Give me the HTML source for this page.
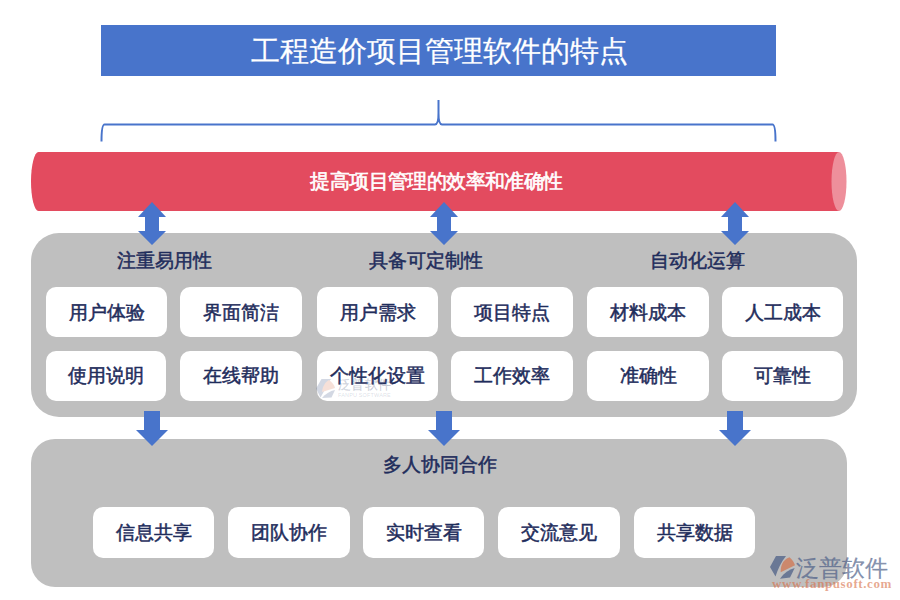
<!DOCTYPE html>
<html><head><meta charset="utf-8">
<style>
html,body{margin:0;padding:0;background:#fff;width:900px;height:600px;overflow:hidden;position:relative;font-family:"Liberation Serif",serif;}
.abs{position:absolute;}
.title{left:101px;top:25px;width:675px;height:51px;background:#4874cb;color:#fff;font-size:28.6px;line-height:54px;text-align:center;box-sizing:border-box;padding-left:2px;-webkit-text-stroke:0.2px #fff;}
.panel{background:#bfbfbf;}
.card{position:absolute;background:#fff;border-radius:10px;color:#1f2d5c;font-size:19.3px;font-weight:normal;-webkit-text-stroke:0.5px #1f2d5c;text-align:center;height:50px;line-height:50px;width:121px;}
.head{position:absolute;color:#1f2d5c;font-size:19.3px;font-weight:normal;-webkit-text-stroke:0.5px #1f2d5c;white-space:nowrap;line-height:20px;}
</style></head><body>
<div class="abs title">工程造价项目管理软件的特点</div>
<svg class="abs" style="left:0;top:0" width="900" height="600">
  <!-- bracket -->
  <path d="M101.5 141.5 C101.5 132 102 124.5 104.5 124.5 L435 124.5 C437.5 124.5 438.5 121 438.5 113 L438.5 100 M438.5 113 C438.5 121 439.5 124.5 442 124.5 L772.5 124.5 C775 124.5 775.5 132 775.5 141.5" fill="none" stroke="#4874cb" stroke-width="2"/>
  <!-- cylinder -->
  <path d="M38.5 152 L839 152 L839 211 L38.5 211 A7.5 29.5 0 0 1 38.5 152 Z" fill="#e34b5f"/>
  <ellipse cx="839" cy="181.5" rx="7.5" ry="29.5" fill="#ee8f9b"/>
  <!-- gray panels -->
  <rect x="31" y="233" width="826" height="184" rx="28" ry="28" fill="#bfbfbf"/>
  <rect x="31" y="439" width="816" height="148" rx="24" ry="24" fill="#bfbfbf"/>
  <!-- double arrows -->
  <g fill="#4874cb">
    <path d="M152 202 L166 217 L159 217 L159 231 L166 231 L152 245 L138 231 L145 231 L145 217 L138 217 Z"/>
    <path d="M444 202 L458 217 L451 217 L451 231 L458 231 L444 245 L430 231 L437 231 L437 217 L430 217 Z"/>
    <path d="M735 202 L749 217 L742 217 L742 231 L749 231 L735 245 L721 231 L728 231 L728 217 L721 217 Z"/>
    <path d="M144 411 L160 411 L160 430 L168 430 L152 446 L136 430 L144 430 Z"/>
    <path d="M436 411 L452 411 L452 430 L460 430 L444 446 L428 430 L436 430 Z"/>
    <path d="M727 411 L743 411 L743 430 L751 430 L735 446 L719 430 L727 430 Z"/>
  </g>
</svg>
<div class="abs" style="left:36px;top:152px;width:801px;height:59px;line-height:59px;text-align:center;color:#fff;font-size:19.5px;letter-spacing:-0.6px;font-weight:normal;-webkit-text-stroke:0.6px #fff;">提高项目管理的效率和准确性</div>

<div class="head" style="left:117px;top:251px;">注重易用性</div>
<div class="head" style="left:369px;top:251px;">具备可定制性</div>
<div class="head" style="left:650px;top:251px;">自动化运算</div>

<div class="card" style="left:46px;top:287px;line-height:52px;">用户体验</div>
<div class="card" style="left:180px;top:287px;width:122px;line-height:52px;">界面简洁</div>
<div class="card" style="left:317px;top:287px;line-height:52px;">用户需求</div>
<div class="card" style="left:451px;top:287px;width:122px;line-height:52px;">项目特点</div>
<div class="card" style="left:587px;top:287px;width:122px;line-height:52px;">材料成本</div>
<div class="card" style="left:722px;top:287px;line-height:52px;">人工成本</div>

<div class="card" style="left:46px;top:351px;width:120px;">使用说明</div>
<div class="card" style="left:180px;top:351px;width:122px;">在线帮助</div>
<div class="card" style="left:317px;top:351px;">个性化设置</div>
<div class="card" style="left:451px;top:351px;width:122px;">工作效率</div>
<div class="card" style="left:587px;top:351px;width:122px;">准确性</div>
<div class="card" style="left:722px;top:351px;">可靠性</div>

<div class="head" style="left:383px;top:455px;">多人协同合作</div>

<div class="card" style="left:93px;top:507px;height:51px;line-height:51px;">信息共享</div>
<div class="card" style="left:228px;top:507px;height:51px;line-height:51px;width:122px;">团队协作</div>
<div class="card" style="left:363px;top:507px;height:51px;line-height:51px;">实时查看</div>
<div class="card" style="left:498px;top:507px;height:51px;line-height:51px;width:122px;">交流意见</div>
<div class="card" style="left:634px;top:507px;height:51px;line-height:51px;">共享数据</div>


<!-- center watermark -->
<svg class="abs" style="left:0;top:0" width="900" height="600">
  <g opacity="0.26">
    <path d="M321.5 379 L331 379 C327 384 325 390 320.5 397.5 L316 388.5 Z" fill="#5a6d96"/>
    <path d="M329 380 C332 382 334.5 385 335 388 L322 392 C322.5 387 325 382 329 380 Z" fill="#e08a6a"/>
    <path d="M335 390 L331.5 397.5 L322 398 C325 394 330 391 335 390 Z" fill="#5a6d96"/>
  </g>
</svg>
<div class="abs" style="left:338px;top:377px;font-family:'Liberation Sans',sans-serif;font-size:13px;line-height:16px;color:rgba(90,105,140,0.26);letter-spacing:0.3px;-webkit-text-stroke:0.3px rgba(90,105,140,0.26);white-space:nowrap;">泛普软件</div>
<div class="abs" style="left:338px;top:392px;font-family:'Liberation Sans',sans-serif;font-size:5.5px;line-height:6px;color:rgba(90,105,140,0.22);letter-spacing:0.15px;white-space:nowrap;">FANPU SOFTWARE</div>

<!-- bottom right logo -->
<svg class="abs" style="left:0;top:0" width="900" height="600">
  <g opacity="0.72">
    <path d="M776 556 L786 556 C781 562 778 569 775.5 576.5 L770 567 Z" fill="#4a5d86"/>
    <path d="M789.5 557.3 C792 559.5 794.3 562.5 795 565.3 L780.7 572.3 C780.5 568 781.5 560 789.5 557.3 Z" fill="#d2734d"/>
    <path d="M794.7 568 L790 577.5 L780 578.7 C784 573 789 569.5 794.7 568 Z" fill="#4a5d86"/>
  </g>
</svg>
<div class="abs" style="left:796px;top:553px;font-family:'Liberation Sans',sans-serif;font-size:23px;line-height:30px;color:rgba(74,93,134,0.68);-webkit-text-stroke:0.3px rgba(74,93,134,0.5);white-space:nowrap;">泛普软件</div>
<div class="abs" style="left:772px;top:577px;font-family:'Liberation Serif',serif;font-weight:bold;font-size:13px;line-height:14px;color:rgba(215,110,70,0.6);letter-spacing:0.6px;white-space:nowrap;">www.fanpusoft.com</div>
</body></html>
